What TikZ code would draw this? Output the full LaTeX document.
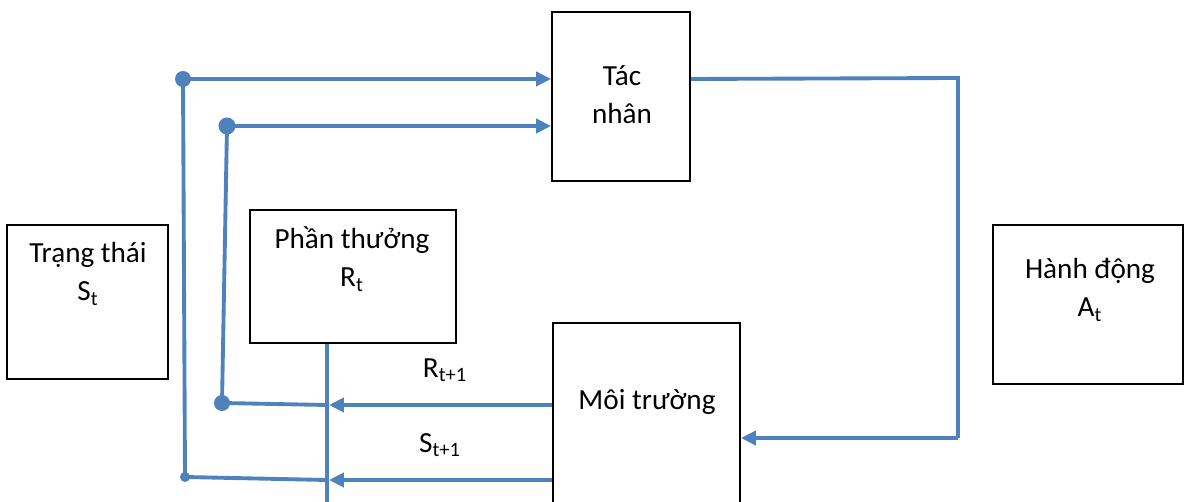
\documentclass[tikz,border=0pt]{standalone}
\usepackage{fontspec}
\setmainfont{Carlito}
\usetikzlibrary{arrows.meta}
\definecolor{flow}{RGB}{79,129,189}
\tikzset{
  box/.style={draw=black, line width=1.1pt, fill=none, inner sep=0pt},
  txt/.style={align=center, inner sep=0pt, font=\fontsize{16.6}{21.5}\selectfont},
  link/.style={draw=flow, line width=2.2pt},
  feed/.style={link, -{Triangle[length=8.5pt,width=8pt]}},
  dot/.style={circle, fill=flow, inner sep=0pt, minimum size=#1},
}
\begin{document}
\begin{tikzpicture}[x=0.02cm,y=-0.02cm]
\useasboundingbox (0,0) rectangle (1190,502);
% boxes
\node[box, minimum width=3.22cm, minimum height=3.08cm] (state) at (87.5,302) {};
\node[box, minimum width=4.12cm, minimum height=2.66cm] (reward) at (353,276.5) {};
\node[box, minimum width=2.76cm, minimum height=3.38cm] (agent) at (621,96.5) {};
\node[box, minimum width=3.74cm, minimum height=3.94cm] (env) at (646.5,421.5) {};
\node[box, minimum width=3.80cm, minimum height=3.18cm] (action) at (1088,304.5) {};
% box texts
\node[txt] (stateT) at (88,274) {Trạng thái\\S\textsubscript{t}};
\node[txt] (rewardT) at (352,259) {Phần thưởng\\R\textsubscript{t}};
\node[txt] (agentT) at (622,95) {Tác\\nhân};
\node[txt] (envT) at (647,402) {Môi trường};
\node[txt] (actionT) at (1090,290) {Hành động\\A\textsubscript{t}};
\node[txt] (rlab) at (445,370) {R\textsubscript{t+1}};
\node[txt] (slab) at (440,445) {S\textsubscript{t+1}};
% junctions
\node[dot=16*0.02cm] (d1) at (183,79) {};
\node[dot=17*0.02cm] (d2) at (227,126) {};
\node[dot=16*0.02cm] (d3) at (222,403) {};
\node[dot=10*0.02cm] (d4) at (185,477) {};
\coordinate (j1) at (327,405);
\coordinate (j2) at (327,480);
\coordinate (rb) at (327,510);
\coordinate (c1) at (958,78);
\coordinate (c2) at (958,438);
% feedback into the agent
\draw[feed] (d1.center) -- (agent.west |- d1);
\draw[feed] (d2.center) -- (agent.west |- d2);
\draw[link] (d1.center) -- (d4.center);
\draw[link] (d2.center) -- (d3.center);
\draw[link] (d3.center) -- (j1);
\draw[link] (d4.center) -- (j2);
% environment outputs
\draw[feed] (env.west |- j1) -- ([xshift=2*0.02cm]j1);
\draw[feed] (env.west |- j2) -- ([xshift=2*0.02cm]j2);
\draw[link] (reward.south -| j1) -- (rb);
% action loop
\draw[link] (agent.east |- d1) -- (c1) -- (c2);
\draw[feed] (c2) -- (env.east |- c2);
\end{tikzpicture}
\end{document}
